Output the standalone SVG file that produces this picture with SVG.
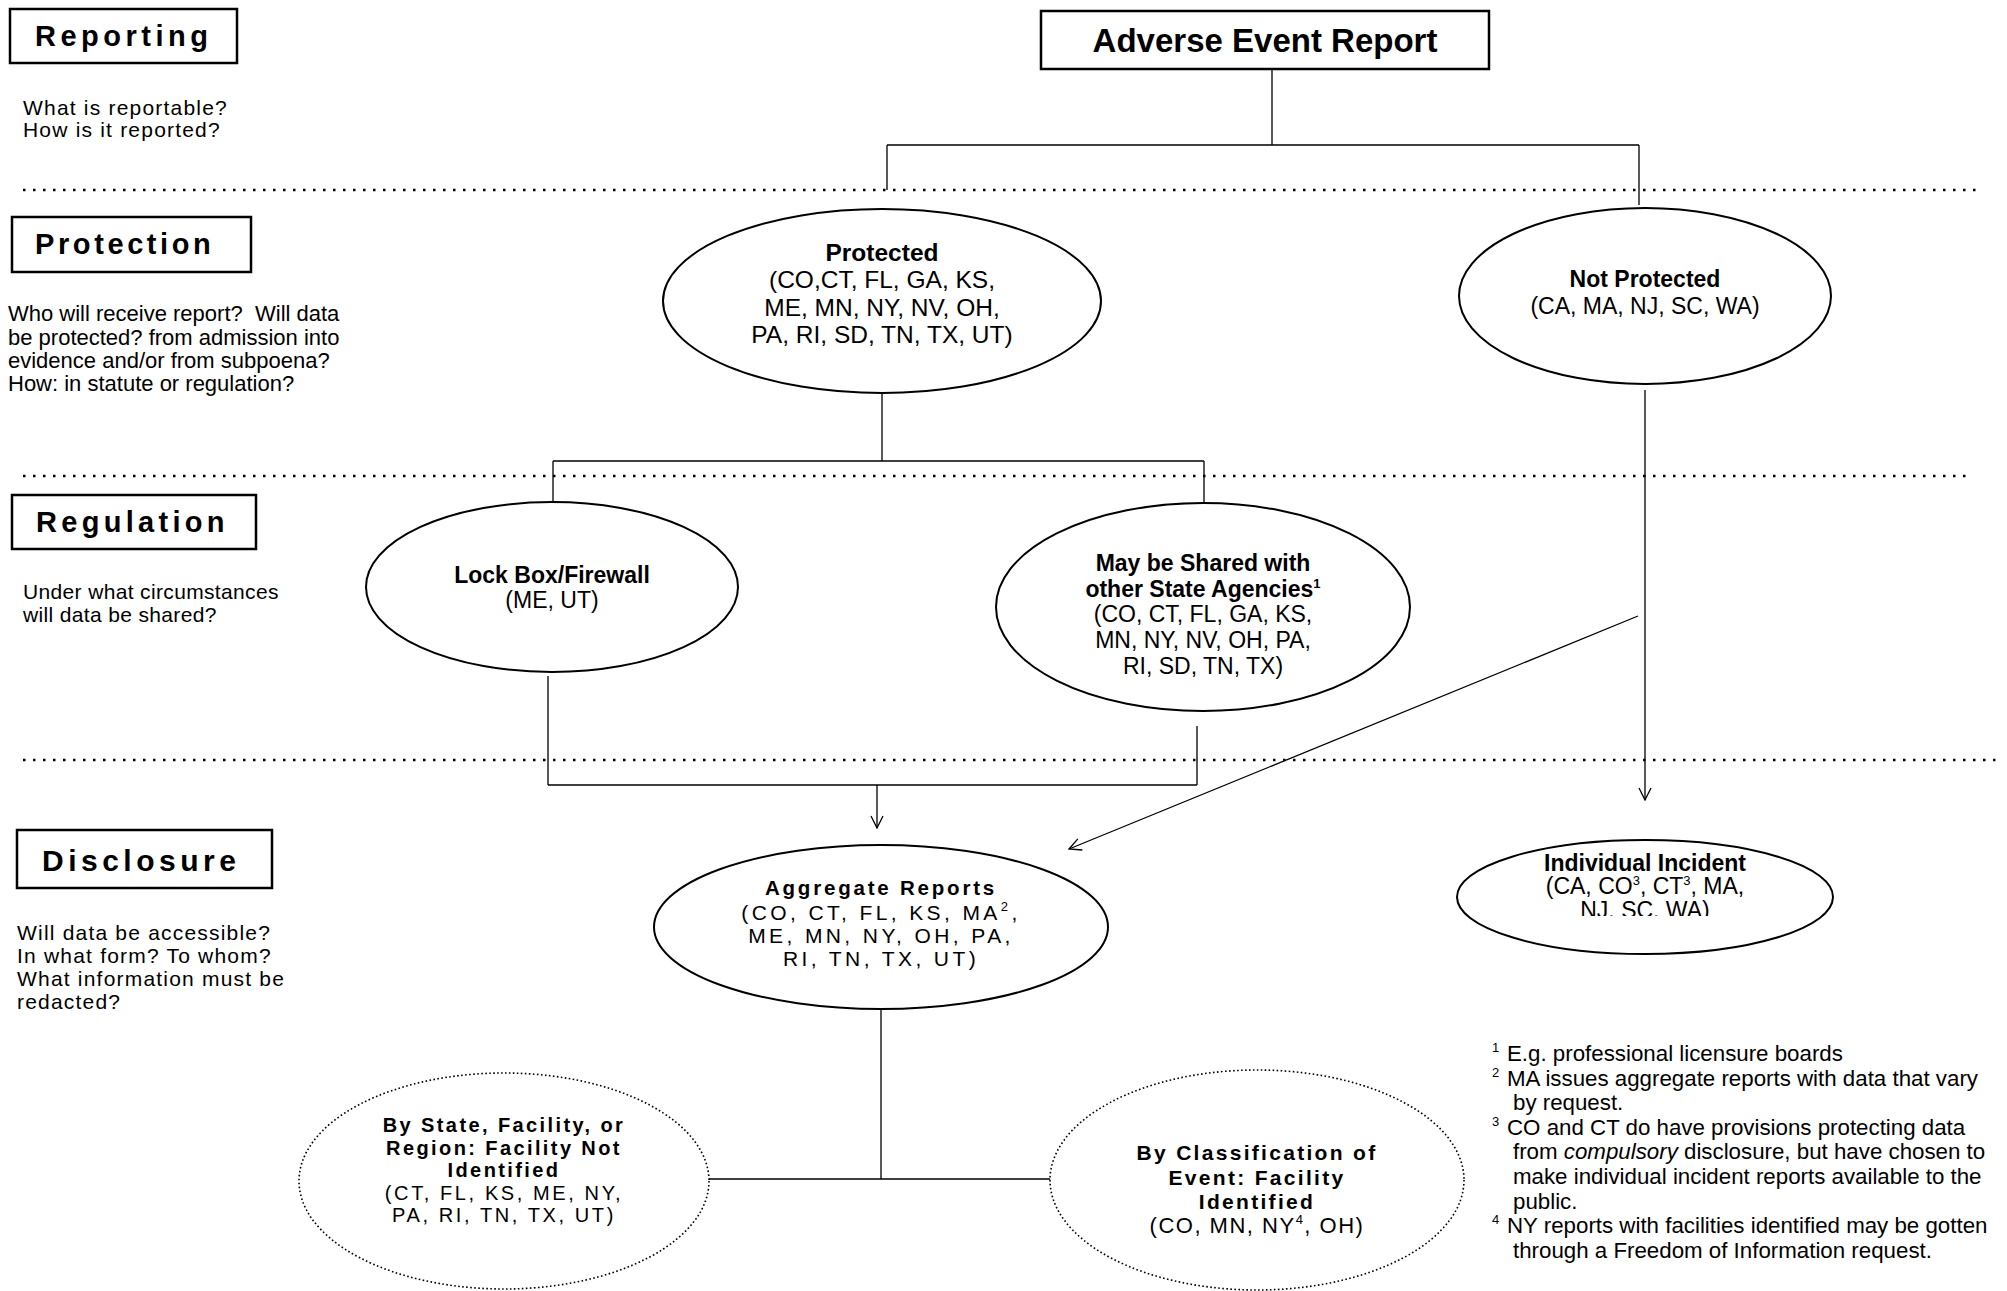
<svg xmlns="http://www.w3.org/2000/svg" width="2007" height="1291" viewBox="0 0 2007 1291">
<style>
text{font-family:"Liberation Sans",Arial,sans-serif;fill:#000}
.hd{font-size:29px;font-weight:bold;letter-spacing:4.5px}
.q{font-size:21px;letter-spacing:1.2px}
.d{font-size:22px}
.box{fill:#fff;stroke:#000;stroke-width:2.5}
.ell{fill:#fff;stroke:#000;stroke-width:2}
.dell{fill:#fff;stroke:#000;stroke-width:1.6;stroke-dasharray:1.6 2.4}
.sep{stroke:#000;stroke-width:2.5;stroke-dasharray:2.5 7.5;fill:none}
.con{stroke:#000;stroke-width:1.3;fill:none}
.c{text-anchor:middle}
.b{font-weight:bold}
.n23{font-size:23px}
.sup{font-size:13px}
.fn{font-size:22.3px}
</style>
<defs>
<marker id="arr" markerUnits="userSpaceOnUse" markerWidth="14" markerHeight="16" refX="13" refY="7" orient="auto" viewBox="0 0 14 14">
<path d="M1,1 L13,7 L1,13" fill="none" stroke="#000" stroke-width="1.3"/>
</marker>
<clipPath id="clipInd"><rect x="1450" y="830" width="400" height="86"/></clipPath>
</defs>
<rect width="2007" height="1291" fill="#fff"/>

<g id="separators">
<line class="sep" x1="23" y1="190" x2="1981" y2="190"/>
<line class="sep" x1="23" y1="476" x2="1971" y2="476"/>
<line class="sep" x1="23" y1="760" x2="2003" y2="760"/>
</g>

<g id="sec-reporting">
<rect class="box" x="10" y="9" width="227" height="54"/>
<text class="hd" x="35" y="46">Reporting</text>
<text class="q"><tspan x="23" y="115">What is reportable?</tspan><tspan x="23" y="137">How is it reported?</tspan></text>
</g>
<g id="sec-protection">
<rect class="box" x="12" y="217" width="239" height="55"/>
<text class="hd" x="35" y="254" style="letter-spacing:3.6px">Protection</text>
<text class="d"><tspan x="8" y="321">Who will receive report?&#160; Will data</tspan><tspan x="8" y="345">be protected? from admission into</tspan><tspan x="8" y="368">evidence and/or from subpoena?</tspan><tspan x="8" y="391">How: in statute or regulation?</tspan></text>
</g>
<g id="sec-regulation">
<rect class="box" x="12" y="495" width="244" height="54"/>
<text class="hd" x="36" y="532" style="letter-spacing:4.3px">Regulation</text>
<text class="q" style="letter-spacing:0.35px"><tspan x="23" y="599">Under what circumstances</tspan><tspan x="23" y="622">will data be shared?</tspan></text>
</g>
<g id="sec-disclosure">
<rect class="box" x="17" y="830" width="255" height="58"/>
<text class="hd" x="42" y="871" style="font-size:30px;letter-spacing:4.5px">Disclosure</text>
<text class="q" style="letter-spacing:1.2px"><tspan x="17" y="940">Will data be accessible?</tspan><tspan x="17" y="963">In what form? To whom?</tspan><tspan x="17" y="986">What information must be</tspan><tspan x="17" y="1009">redacted?</tspan></text>
</g>

<g id="connectors">
<path class="con" d="M1272,69 V145 M887,145 H1639 M887,145 V190 M1639,145 V205"/>
<path class="con" d="M882,393 V461 M553,461 H1204 M553,461 V502 M1204,461 V503"/>
<path class="con" d="M548,676 V785 M1197,726 V785 M548,785 H1197"/>
<line class="con" x1="877" y1="785" x2="877" y2="828" marker-end="url(#arr)"/>
<line class="con" x1="1645" y1="390" x2="1645" y2="800" marker-end="url(#arr)"/>
<line class="con" x1="1638" y1="616" x2="1069" y2="849" marker-end="url(#arr)"/>
<path class="con" d="M881,1009 V1179 M709,1179 H1050"/>
</g>

<g id="adverse-event-report">
<rect class="box" x="1041" y="11" width="448" height="58"/>
<text class="c b" x="1265" y="52" style="font-size:33px">Adverse Event Report</text>
</g>

<g id="protected">
<ellipse class="ell" cx="882" cy="301" rx="219" ry="92"/>
<text class="c" style="font-size:24.5px"><tspan class="b" x="882" y="261">Protected</tspan><tspan x="882" y="288">(CO,CT, FL, GA, KS,</tspan><tspan x="882" y="316">ME, MN, NY, NV, OH,</tspan><tspan x="882" y="343">PA, RI, SD, TN, TX, UT)</tspan></text>
</g>

<g id="not-protected">
<ellipse class="ell" cx="1645" cy="296" rx="186" ry="88"/>
<text class="c n23"><tspan class="b" x="1645" y="287">Not Protected</tspan><tspan x="1645" y="314">(CA, MA, NJ, SC, WA)</tspan></text>
</g>

<g id="lock-box">
<ellipse class="ell" cx="552" cy="587" rx="186" ry="85"/>
<text class="c n23"><tspan class="b" x="552" y="583">Lock Box/Firewall</tspan><tspan x="552" y="608">(ME, UT)</tspan></text>
</g>

<g id="may-be-shared">
<ellipse class="ell" cx="1203" cy="607" rx="207" ry="104"/>
<text class="c n23 b" x="1203" y="571">May be Shared with</text>
<text class="c n23 b" x="1203" y="597">other State Agencies<tspan class="sup" dy="-9">1</tspan></text>
<text class="c n23"><tspan x="1203" y="622">(CO, CT, FL, GA, KS,</tspan><tspan x="1203" y="648">MN, NY, NV, OH, PA,</tspan><tspan x="1203" y="674">RI, SD, TN, TX)</tspan></text>
</g>

<g id="aggregate-reports">
<ellipse class="ell" cx="881" cy="927" rx="227" ry="82"/>
<text class="c b" x="881" y="895" style="font-size:20.5px;letter-spacing:2.8px">Aggregate Reports</text>
<text class="c" x="881" y="920" style="font-size:21px;letter-spacing:3.4px">(CO, CT, FL, KS, MA<tspan class="sup" dy="-9">2</tspan><tspan dy="9">,</tspan></text>
<text class="c" style="font-size:21px;letter-spacing:3.4px"><tspan x="881" y="943">ME, MN, NY, OH, PA,</tspan><tspan x="881" y="966">RI, TN, TX, UT)</tspan></text>
</g>

<g id="individual-incident">
<ellipse class="ell" cx="1645" cy="897" rx="188" ry="57"/>
<text class="c n23 b" x="1645" y="871">Individual Incident</text>
<text class="c n23" x="1645" y="894">(CA, CO<tspan class="sup" dy="-9">3</tspan><tspan dy="9">, CT</tspan><tspan class="sup" dy="-9">3</tspan><tspan dy="9">, MA,</tspan></text>
<text class="c n23" x="1645" y="918" clip-path="url(#clipInd)">NJ. SC. WA)</text>
</g>

<g id="by-state">
<ellipse class="dell" cx="504" cy="1181" rx="205" ry="108"/>
<text class="c b" style="font-size:20px;letter-spacing:2.4px"><tspan x="504" y="1132">By State, Facility, or</tspan><tspan x="504" y="1155">Region: Facility Not</tspan><tspan x="504" y="1177">Identified</tspan></text>
<text class="c" style="font-size:20px;letter-spacing:2.6px"><tspan x="504" y="1200">(CT, FL, KS, ME, NY,</tspan><tspan x="504" y="1222">PA, RI, TN, TX, UT)</tspan></text>
</g>

<g id="by-classification">
<ellipse class="dell" cx="1257" cy="1180" rx="207" ry="110"/>
<text class="c b" style="font-size:21px;letter-spacing:2.3px"><tspan x="1257" y="1160">By Classification of</tspan><tspan x="1257" y="1185">Event: Facility</tspan><tspan x="1257" y="1209">Identified</tspan></text>
<text class="c" x="1257" y="1233" style="font-size:22px;letter-spacing:1.5px">(CO, MN, NY<tspan class="sup" dy="-9">4</tspan><tspan dy="9">, OH)</tspan></text>
</g>

<g id="footnotes">
<text class="sup" x="1492" y="1052">1</text>
<text class="fn" x="1507" y="1061">E.g. professional licensure boards</text>
<text class="sup" x="1492" y="1077">2</text>
<text class="fn" x="1507" y="1086">MA issues aggregate reports with data that vary</text>
<text class="fn" x="1513" y="1110">by request.</text>
<text class="sup" x="1492" y="1126">3</text>
<text class="fn" x="1507" y="1135">CO and CT do have provisions protecting data</text>
<text class="fn" x="1513" y="1159">from <tspan font-style="italic">compulsory</tspan> disclosure, but have chosen to</text>
<text class="fn" x="1513" y="1184">make individual incident reports available to the</text>
<text class="fn" x="1513" y="1209">public.</text>
<text class="sup" x="1492" y="1224">4</text>
<text class="fn" x="1507" y="1233">NY reports with facilities identified may be gotten</text>
<text class="fn" x="1513" y="1258">through a Freedom of Information request.</text>
</g>
</svg>
